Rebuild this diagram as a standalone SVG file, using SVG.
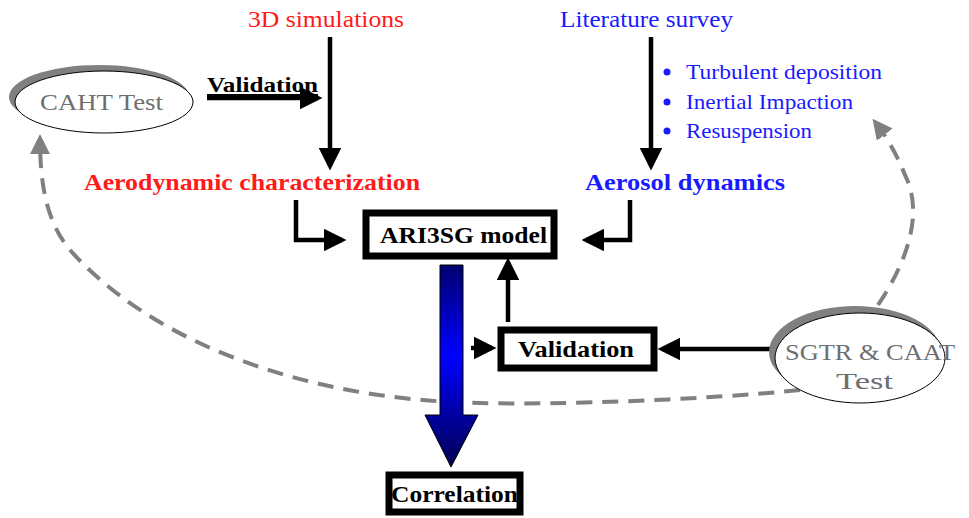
<svg xmlns="http://www.w3.org/2000/svg" width="969" height="518" viewBox="0 0 969 518">
<style>
text{font-family:"Liberation Serif","DejaVu Serif",serif}
.box{fill:#fff;stroke:#000;stroke-width:7}
.bl{font-weight:bold;font-size:23px;fill:#000}
.line{stroke:#000;stroke-width:4.5;fill:none}
.dash{stroke:#808080;stroke-width:4;fill:none;stroke-dasharray:16,10}
.gray{fill:#6e6e6e;font-size:24px}
.blue{fill:#1a1aff;font-size:21px}
</style>
<defs>
<marker id="ah" markerWidth="5" markerHeight="5" refX="4" refY="2.5" orient="auto" markerUnits="strokeWidth"><path d="M0,0 L5,2.5 L0,5 z" fill="#000"/></marker>
<marker id="gh" markerWidth="5" markerHeight="5" refX="4" refY="2.5" orient="auto" markerUnits="strokeWidth"><path d="M0,0 L5,2.5 L0,5 z" fill="#808080"/></marker>
<linearGradient id="bg" x1="0" y1="265" x2="0" y2="467" gradientUnits="userSpaceOnUse">
<stop offset="0" stop-color="#000070"/><stop offset="0.45" stop-color="#0000ff"/><stop offset="1" stop-color="#000050"/>
</linearGradient>
</defs>

<g id="connectors">
<path class="dash" d="M800,390 C700,400 560,405 480,403 C300,400 150,340 70,250 C45,220 40,180 40,138" marker-end="url(#gh)"/>
<path class="dash" d="M878,305 C905,265 925,215 905,175 C895,150 885,135 875,122" marker-end="url(#gh)"/>
<line class="line" x1="330" y1="37" x2="330" y2="166" marker-end="url(#ah)"/>
<line class="line" x1="651" y1="37" x2="651" y2="166" marker-end="url(#ah)"/>
<line class="line" x1="207" y1="98" x2="318" y2="98" stroke-width="5" marker-end="url(#ah)"/>
<polyline class="line" points="296,200 296,240 342,240" marker-end="url(#ah)"/>
<polyline class="line" points="630,200 630,240 586,240" marker-end="url(#ah)"/>
<line class="line" x1="508" y1="322" x2="508" y2="262" marker-end="url(#ah)"/>
<line class="line" x1="471" y1="348" x2="492" y2="348" marker-end="url(#ah)"/>
<line class="line" x1="778" y1="349" x2="662" y2="349" marker-end="url(#ah)"/>
<path d="M440,265 H463 V415 H478 L451,467 L425,415 H440 Z" fill="url(#bg)" stroke="#000" stroke-width="1"/>
</g>

<g id="sim3d"><text x="248" y="27" font-size="23" fill="#ff1a1a" textLength="156" lengthAdjust="spacingAndGlyphs">3D simulations</text></g>
<g id="litsurvey"><text x="560" y="27" font-size="23" fill="#1a1aff" textLength="173" lengthAdjust="spacingAndGlyphs">Literature survey</text></g>

<g id="caht">
<ellipse cx="99" cy="97" rx="90" ry="32" fill="#808080"/>
<ellipse cx="104" cy="102" rx="89" ry="31" fill="#fff" stroke="#000" stroke-width="1"/>
<text x="40" y="110" class="gray" textLength="123" lengthAdjust="spacingAndGlyphs">CAHT Test</text>
</g>
<g id="validation-label"><text x="207" y="92" font-size="22" font-weight="bold" text-decoration="underline" textLength="111" lengthAdjust="spacingAndGlyphs">Validation</text></g>

<g id="aero"><text x="84" y="190" font-size="24" font-weight="bold" fill="#ff1a1a" textLength="336" lengthAdjust="spacingAndGlyphs">Aerodynamic characterization</text></g>
<g id="aerosol"><text x="585" y="190" font-size="24" font-weight="bold" fill="#1a1aff" textLength="200" lengthAdjust="spacingAndGlyphs">Aerosol dynamics</text></g>

<g id="bullets">
<circle cx="667" cy="72" r="3.5" fill="#1a1aff"/><text x="686" y="79" class="blue" textLength="196" lengthAdjust="spacingAndGlyphs">Turbulent deposition</text>
<circle cx="667" cy="102" r="3.5" fill="#1a1aff"/><text x="686" y="109" class="blue" textLength="167" lengthAdjust="spacingAndGlyphs">Inertial Impaction</text>
<circle cx="667" cy="131" r="3.5" fill="#1a1aff"/><text x="686" y="138" class="blue" textLength="126" lengthAdjust="spacingAndGlyphs">Resuspension</text>
</g>

<g id="ari3sg">
<rect class="box" x="366" y="213" width="188" height="43"/>
<text x="380" y="243" class="bl" textLength="167" lengthAdjust="spacingAndGlyphs">ARI3SG model</text>
</g>

<g id="validation">
<rect class="box" x="501" y="330" width="153" height="38"/>
<text x="518" y="357" class="bl" textLength="116" lengthAdjust="spacingAndGlyphs">Validation</text>
</g>

<g id="sgtr">
<ellipse cx="855" cy="352" rx="86" ry="46" fill="#808080"/>
<ellipse cx="860" cy="358" rx="85" ry="45" fill="#fff" stroke="#000" stroke-width="1"/>
<text x="785" y="360" class="gray" textLength="170" lengthAdjust="spacingAndGlyphs">SGTR &amp; CAAT</text>
<text x="836" y="389" class="gray" textLength="57" lengthAdjust="spacingAndGlyphs">Test</text>
</g>

<g id="correlation">
<rect class="box" x="389" y="475" width="131" height="37"/>
<text x="391" y="502" class="bl" textLength="127" lengthAdjust="spacingAndGlyphs">Correlation</text>
</g>
</svg>
